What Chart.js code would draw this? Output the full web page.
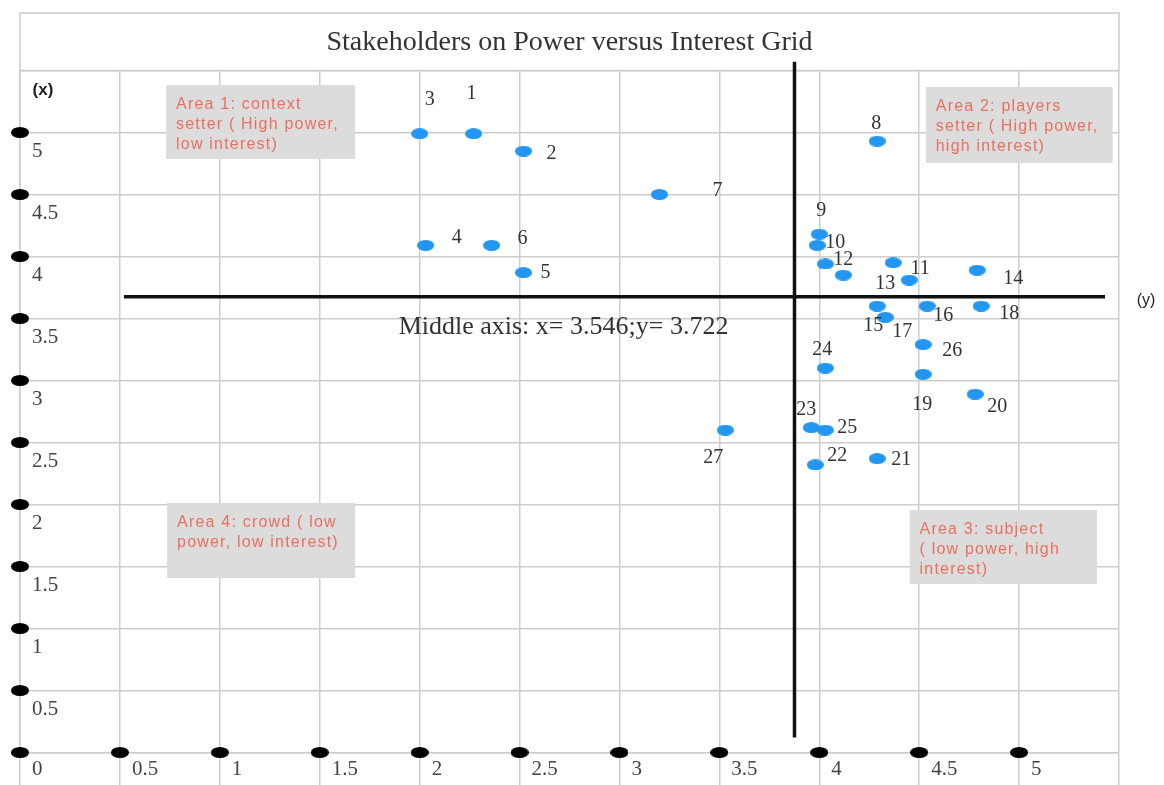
<!DOCTYPE html>
<html>
<head>
<meta charset="utf-8">
<title>Stakeholders on Power versus Interest Grid</title>
<script src="https://cdn.jsdelivr.net/npm/chart.js@4.4.1/dist/chart.umd.min.js"></script>
<style>
  html, body { margin: 0; padding: 0; background: #fff; }
  #grid { display: block; }
</style>
</head>
<body>
<canvas id="grid" width="1164" height="785"></canvas>
<script>
// axis ticks (both axes share the same 0..5 steps)
const tickValues = [0, 0.5, 1, 1.5, 2, 2.5, 3, 3.5, 4, 4.5, 5];

// stakeholders: label, interest (horizontal), power (vertical)
const stakeholderLabels = ['1', '2', '3', '4', '5', '6', '7', '8', '9', '10',
    '11', '12', '13', '14', '15', '16', '17', '18', '19', '20',
    '21', '22', '23', '24', '25', '26', '27', ''];
const interestScores = [2.27, 2.52, 2.00, 2.03, 2.52, 2.36, 3.20, 4.29, 4.00, 3.99,
    4.37, 4.03, 4.45, 4.79, 4.29, 4.54, 4.33, 4.81, 4.52, 4.78,
    4.29, 3.98, 3.96, 4.03, 4.03, 4.52, 3.53, 4.12];
const powerScores = [4.99, 4.85, 4.99, 4.09, 3.87, 4.09, 4.50, 4.93, 4.18, 4.09,
    3.95, 3.94, 3.81, 3.89, 3.60, 3.60, 3.51, 3.60, 3.05, 2.89,
    2.37, 2.32, 2.62, 3.10, 2.60, 3.29, 2.60, 3.85];

// middle axis lines as drawn in the picture
const middleInterest = 3.876;
const middlePower = 3.676;
const middleHorizontalSpan = [0.52, 5.43];
const middleVerticalSpan = [0.12, 5.57];
const middleAxisText = 'Middle axis: x= 3.546;y= 3.722';

// where each number sits next to its dot (pixels)
const labelNudges = [[-2, -40], [28, 3], [10, -34], [31, -8], [22, 0], [31, -7], [58, -4],
    [-1, -17], [2, -23], [18, -3], [27, 6], [18, -4], [-24, 4], [36, 9], [-4, 20],
    [16, 10], [17, 14], [28, 8], [-1, 30], [22, 13], [24, 1], [22, -9], [-5, -18],
    [-3, -18], [22, -2], [29, 6], [-12, 28], [0, 0]];

const areaNotes = [
    { x0: 0.731, x1: 1.677, y0: 5.383, y1: 4.786, lines: ['Area 1: context', 'setter ( High power,', 'low interest)'] },
    { x0: 4.533, x1: 5.468, y0: 5.367, y1: 4.754, lines: ['Area 2: players', 'setter ( High power,', 'high interest)'] },
    { x0: 4.452, x1: 5.390, y0: 1.956, y1: 1.359, lines: ['Area 3: subject', '( low power, high', 'interest)'] },
    { x0: 0.736, x1: 1.677, y0: 2.012, y1: 1.407, lines: ['Area 4: crowd ( low', 'power, low interest)'] }
];

const gridColor = '#cdcdcd';
const serif = "'Liberation Serif', 'Times New Roman', serif";
const sans = "'Liberation Sans', Arial, sans-serif";

function ellipseDot(w, h, color) {
    const c = document.createElement('canvas');
    c.width = w;
    c.height = h;
    const g = c.getContext('2d');
    g.fillStyle = color;
    g.beginPath();
    g.ellipse(w / 2, h / 2, w / 2, h / 2, 0, 0, Math.PI * 2);
    g.fill();
    return c;
}

const blueDot = ellipseDot(17, 11, '#2196f3');
const blackDot = ellipseDot(18, 11, '#000');

const stakeholderPoints = interestScores.map((x, i) => ({ x: x, y: powerScores[i] }));
const axisDots = tickValues.map(v => ({ x: 0, y: v }))
    .concat(tickValues.slice(1).map(v => ({ x: v, y: 0 })));

const overlay = {
    id: 'overlay',
    beforeDraw(chart) {
        const ctx = chart.ctx;
        const area = chart.chartArea;
        ctx.save();
        ctx.fillStyle = '#fff';
        ctx.fillRect(0, 0, chart.width, chart.height);
        ctx.strokeStyle = gridColor;
        ctx.lineWidth = 1.5;
        ctx.strokeRect(area.left, 13, area.right - area.left, area.top - 13);
        ctx.restore();
    },
    beforeDatasetsDraw(chart) {
        const ctx = chart.ctx;
        const xs = chart.scales.x;
        const ys = chart.scales.y;
        ctx.save();
        areaNotes.forEach(note => {
            const left = xs.getPixelForValue(note.x0);
            const right = xs.getPixelForValue(note.x1);
            const top = ys.getPixelForValue(note.y0);
            const bottom = ys.getPixelForValue(note.y1);
            ctx.fillStyle = '#dcdcdc';
            ctx.fillRect(left, top, right - left, bottom - top);
            ctx.fillStyle = '#e8705f';
            ctx.font = '16px ' + sans;
            ctx.letterSpacing = '1.2px';
            ctx.textAlign = 'left';
            ctx.textBaseline = 'middle';
            note.lines.forEach((line, i) => {
                ctx.fillText(line, left + 10, top + 20 + i * 20);
            });
        });
        ctx.letterSpacing = '0px';
        ctx.restore();
    },
    afterDatasetsDraw(chart) {
        const ctx = chart.ctx;
        const xs = chart.scales.x;
        const ys = chart.scales.y;
        const meta = chart.getDatasetMeta(0);
        ctx.save();
        ctx.fillStyle = '#333';
        ctx.font = '20px ' + serif;
        ctx.textAlign = 'center';
        ctx.textBaseline = 'middle';
        meta.data.forEach((pt, i) => {
            const nudge = labelNudges[i];
            ctx.fillText(stakeholderLabels[i], pt.x + nudge[0], pt.y + nudge[1]);
        });

        ctx.font = '26px ' + serif;
        ctx.fillText(middleAxisText, xs.getPixelForValue(2.72), ys.getPixelForValue(3.434));

        ctx.fillStyle = '#222';
        ctx.font = 'bold 17px ' + sans;
        ctx.fillText('(x)', 43, 90);
        ctx.font = '16px ' + sans;
        ctx.fillText('(y)', 1146, 301);
        ctx.restore();
    }
};

new Chart(document.getElementById('grid'), {
    type: 'scatter',
    data: {
        datasets: [
            {
                label: 'Stakeholders',
                data: stakeholderPoints,
                pointStyle: blueDot,
                pointRadius: 8,
                order: 0
            },
            {
                label: 'Axis marks',
                data: axisDots,
                pointStyle: blackDot,
                pointRadius: 8,
                clip: false,
                order: 1
            },
            {
                label: 'Middle power',
                data: middleHorizontalSpan.map(x => ({ x: x, y: middlePower })),
                showLine: true,
                borderColor: '#111',
                borderWidth: 3.5,
                pointRadius: 0,
                order: 2
            },
            {
                label: 'Middle interest',
                data: middleVerticalSpan.map(y => ({ x: middleInterest, y: y })),
                showLine: true,
                borderColor: '#111',
                borderWidth: 3.5,
                pointRadius: 0,
                clip: false,
                order: 2
            }
        ]
    },
    options: {
        responsive: false,
        animation: false,
        layout: {
            padding: { top: 0, left: 0, right: 45, bottom: 0 }
        },
        plugins: {
            legend: { display: false },
            tooltip: { enabled: false },
            title: {
                display: true,
                text: 'Stakeholders on Power versus Interest Grid',
                fullSize: false,
                color: '#333',
                font: { family: serif, size: 28, weight: 'normal', lineHeight: 1.2 },
                padding: { top: 26, bottom: 10.9 }
            }
        },
        scales: {
            x: {
                type: 'linear',
                min: 0,
                max: 5.5,
                afterFit(scale) { scale.height = 32.5; },
                grid: { color: gridColor, lineWidth: 1.5, tickLength: 33 },
                border: { color: gridColor, width: 1.5 },
                ticks: {
                    stepSize: 0.5,
                    autoSkip: false,
                    maxRotation: 0,
                    align: 'start',
                    labelOffset: 12,
                    padding: -28.5,
                    color: '#444',
                    font: { family: serif, size: 21 },
                    callback: v => (v > 5 ? '' : v)
                }
            },
            y: {
                type: 'linear',
                min: 0,
                max: 5.5,
                afterFit(scale) { scale.width = 20; },
                grid: { color: gridColor, lineWidth: 1.5, drawTicks: false },
                border: { color: gridColor, width: 1.5 },
                ticks: {
                    stepSize: 0.5,
                    autoSkip: false,
                    mirror: true,
                    padding: 12,
                    labelOffset: 19,
                    color: '#444',
                    font: { family: serif, size: 21 },
                    callback: v => (v === 0 || v > 5 ? '' : v)
                }
            }
        }
    },
    plugins: [overlay]
});
</script>
</body>
</html>
